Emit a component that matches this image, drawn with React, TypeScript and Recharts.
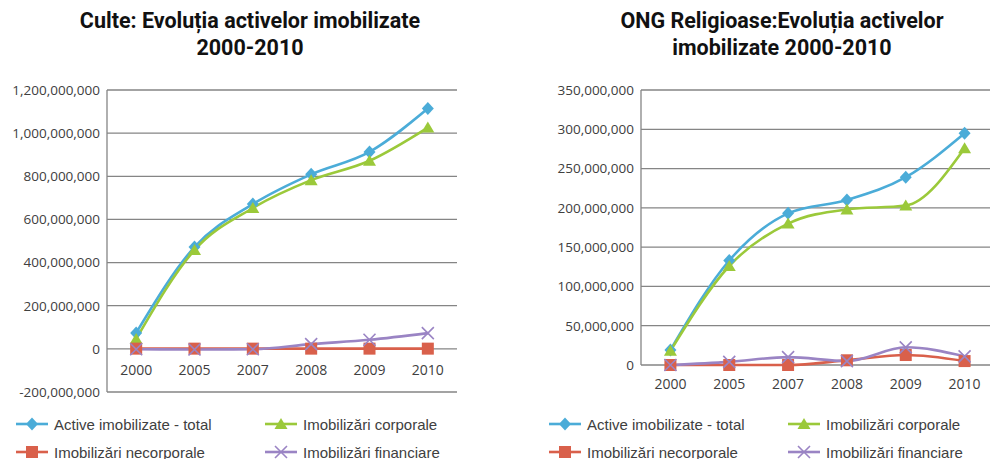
import React from "react";
import { LineChart, Line, XAxis, YAxis, CartesianGrid } from "recharts";

const BLUE = "#4BACD8";
const GREEN = "#9BC93A";
const RED = "#D9604B";
const PURPLE = "#9A84C4";
const GRID = "#858585";
const TEXT = "#404040";

const YEARS = ["2000", "2005", "2007", "2008", "2009", "2010"];

// Culte
const CULTE_TOTAL = [74e6, 472e6, 671e6, 809e6, 913e6, 1114e6];
const CULTE_CORP = [46e6, 458e6, 653e6, 782e6, 872e6, 1026e6];
const CULTE_NECORP = [1e6, 1e6, 1e6, 1e6, 1e6, 1e6];
const CULTE_FIN = [-2e6, -3e6, -2e6, 22e6, 42e6, 73e6];
const CULTE_TICKS = [-200e6, 0, 200e6, 400e6, 600e6, 800e6, 1000e6, 1200e6];

// ONG religioase
const ONG_TOTAL = [19e6, 133e6, 193e6, 210e6, 239e6, 295e6];
const ONG_CORP = [18e6, 126e6, 180e6, 198e6, 203e6, 276e6];
const ONG_NECORP = [0, 0, 0, 6e6, 12.7e6, 5e6];
const ONG_FIN = [0, 4e6, 10e6, 5e6, 22.5e6, 11e6];
const ONG_TICKS = [0, 50e6, 100e6, 150e6, 200e6, 250e6, 300e6, 350e6];

const SERIES = [
  { key: "total", name: "Active imobilizate - total", color: BLUE, shape: "diamond" },
  { key: "corp", name: "Imobilizări corporale", color: GREEN, shape: "triangle" },
  { key: "necorp", name: "Imobilizări necorporale", color: RED, shape: "square" },
  { key: "fin", name: "Imobilizări financiare", color: PURPLE, shape: "x" },
];

function buildRows(total: number[], corp: number[], necorp: number[], fin: number[]) {
  return YEARS.map((year, i) => ({ year, total: total[i], corp: corp[i], necorp: necorp[i], fin: fin[i] }));
}

const culteRows = buildRows(CULTE_TOTAL, CULTE_CORP, CULTE_NECORP, CULTE_FIN);
const ongRows = buildRows(ONG_TOTAL, ONG_CORP, ONG_NECORP, ONG_FIN);

function Marker({ shape, cx, cy, color }: { shape: string; cx: number; cy: number; color: string }) {
  if (shape === "diamond") {
    return <path d={`M${cx},${cy - 6.5}L${cx + 6},${cy}L${cx},${cy + 6.5}L${cx - 6},${cy}Z`} fill={color} />;
  }
  if (shape === "triangle") {
    return <path d={`M${cx},${cy - 6}L${cx + 6.5},${cy + 5}L${cx - 6.5},${cy + 5}Z`} fill={color} />;
  }
  if (shape === "square") {
    return <rect x={cx - 6} y={cy - 6} width={12} height={12} fill={color} />;
  }
  return (
    <path
      d={`M${cx - 6},${cy - 6}L${cx + 6},${cy + 6}M${cx + 6},${cy - 6}L${cx - 6},${cy + 6}`}
      stroke={color}
      strokeWidth={1.6}
      fill="none"
    />
  );
}

const fmt = (v: number) => v.toLocaleString("en-US");

type PanelProps = {
  rows: ReturnType<typeof buildRows>;
  ticks: number[];
  width: number;
  height: number;
  top: number;
  axisWidth: number;
  right: number;
  xAxisHeight: number;
  labelGap: number;
};

function Panel({ rows, ticks, width, height, top, axisWidth, right, xAxisHeight, labelGap }: PanelProps) {
  const yMin = ticks[0];
  const yMax = ticks[ticks.length - 1];
  const plotH = height - top - xAxisHeight;
  const plotW = width - axisWidth - right;
  const halfBand = plotW / rows.length / 2;
  const zeroY = top + (plotH * yMax) / (yMax - yMin);

  const YearTick = (props: any) => (
    <text x={props.x} y={zeroY + labelGap} textAnchor="middle" dominantBaseline="central" fill={TEXT} fontSize={14}>
      {props.payload.value}
    </text>
  );

  return (
    <LineChart width={width} height={height} data={rows} margin={{ top, right, left: 0, bottom: 0 }}>
      <CartesianGrid vertical={false} stroke={GRID} strokeWidth={1.3} />
      <XAxis
        dataKey="year"
        height={xAxisHeight}
        axisLine={false}
        tickLine={false}
        tick={YearTick}
        interval={0}
        padding={{ left: halfBand, right: halfBand }}
      />
      <YAxis
        width={axisWidth}
        domain={[yMin, yMax]}
        ticks={ticks}
        tickFormatter={fmt}
        axisLine={{ stroke: GRID, strokeWidth: 1.3 }}
        tickLine={false}
        tickSize={0}
        tickMargin={7}
        tick={{ fill: TEXT, fontSize: 13.5 }}
        interval={0}
      />
      {SERIES.map((s) => (
        <Line
          key={s.key}
          dataKey={s.key}
          type="monotone"
          stroke={s.color}
          strokeWidth={2.6}
          isAnimationActive={false}
          dot={(p: any) => <Marker key={`${s.key}-${p.index}`} shape={s.shape} cx={p.cx} cy={p.cy} color={s.color} />}
          activeDot={false}
        />
      ))}
    </LineChart>
  );
}

function LegendItem({ s, left, top }: { s: (typeof SERIES)[number]; left: number; top: number }) {
  return (
    <div style={{ position: "absolute", left, top, height: 20, display: "flex", alignItems: "center", whiteSpace: "nowrap" }}>
      <svg width={34} height={16} style={{ marginRight: 5 }}>
        <line x1={1} y1={8} x2={33} y2={8} stroke={s.color} strokeWidth={2.6} />
        <Marker shape={s.shape} cx={17} cy={8} color={s.color} />
      </svg>
      <span style={{ fontSize: 15, color: TEXT, fontFamily: "'Liberation Sans', sans-serif" }}>{s.name}</span>
    </div>
  );
}

function Legend({ cols }: { cols: number[] }) {
  return (
    <>
      <LegendItem s={SERIES[0]} left={cols[0]} top={414} />
      <LegendItem s={SERIES[1]} left={cols[1]} top={414} />
      <LegendItem s={SERIES[2]} left={cols[0]} top={442} />
      <LegendItem s={SERIES[3]} left={cols[1]} top={442} />
    </>
  );
}

function Title({ lines, center }: { lines: string[]; center: number }) {
  return (
    <div
      style={{
        position: "absolute",
        left: center - 220,
        width: 440,
        top: 7,
        textAlign: "center",
        fontFamily: "Roboto, sans-serif",
        fontWeight: "bold",
        fontSize: 21.5,
        lineHeight: "27px",
        color: "#111",
      }}
    >
      {lines.map((l) => (
        <div key={l}>{l}</div>
      ))}
    </div>
  );
}

export default function App() {
  return (
    <div
      style={{
        position: "absolute",
        left: 0,
        top: 0,
        width: 990,
        height: 459,
        overflow: "hidden",
        background: "#fff",
        fontFamily: "'Open Sans', sans-serif",
      }}
    >
      <Title lines={["Culte: Evoluția activelor imobilizate", "2000-2010"]} center={250} />
      <Title lines={["ONG Religioase:Evoluția activelor", "imobilizate 2000-2010"]} center={782} />
      <div style={{ position: "absolute", left: 0, top: 0 }}>
        <Panel rows={culteRows} ticks={CULTE_TICKS} width={470} height={400} top={90} axisWidth={107} right={13} xAxisHeight={8} labelGap={21} />
      </div>
      <div style={{ position: "absolute", left: 495, top: 0 }}>
        <Panel rows={ongRows} ticks={ONG_TICKS} width={500} height={400} top={90} axisWidth={146} right={1} xAxisHeight={35} labelGap={18} />
      </div>
      <Legend cols={[15, 264]} />
      <Legend cols={[548, 787]} />
    </div>
  );
}
